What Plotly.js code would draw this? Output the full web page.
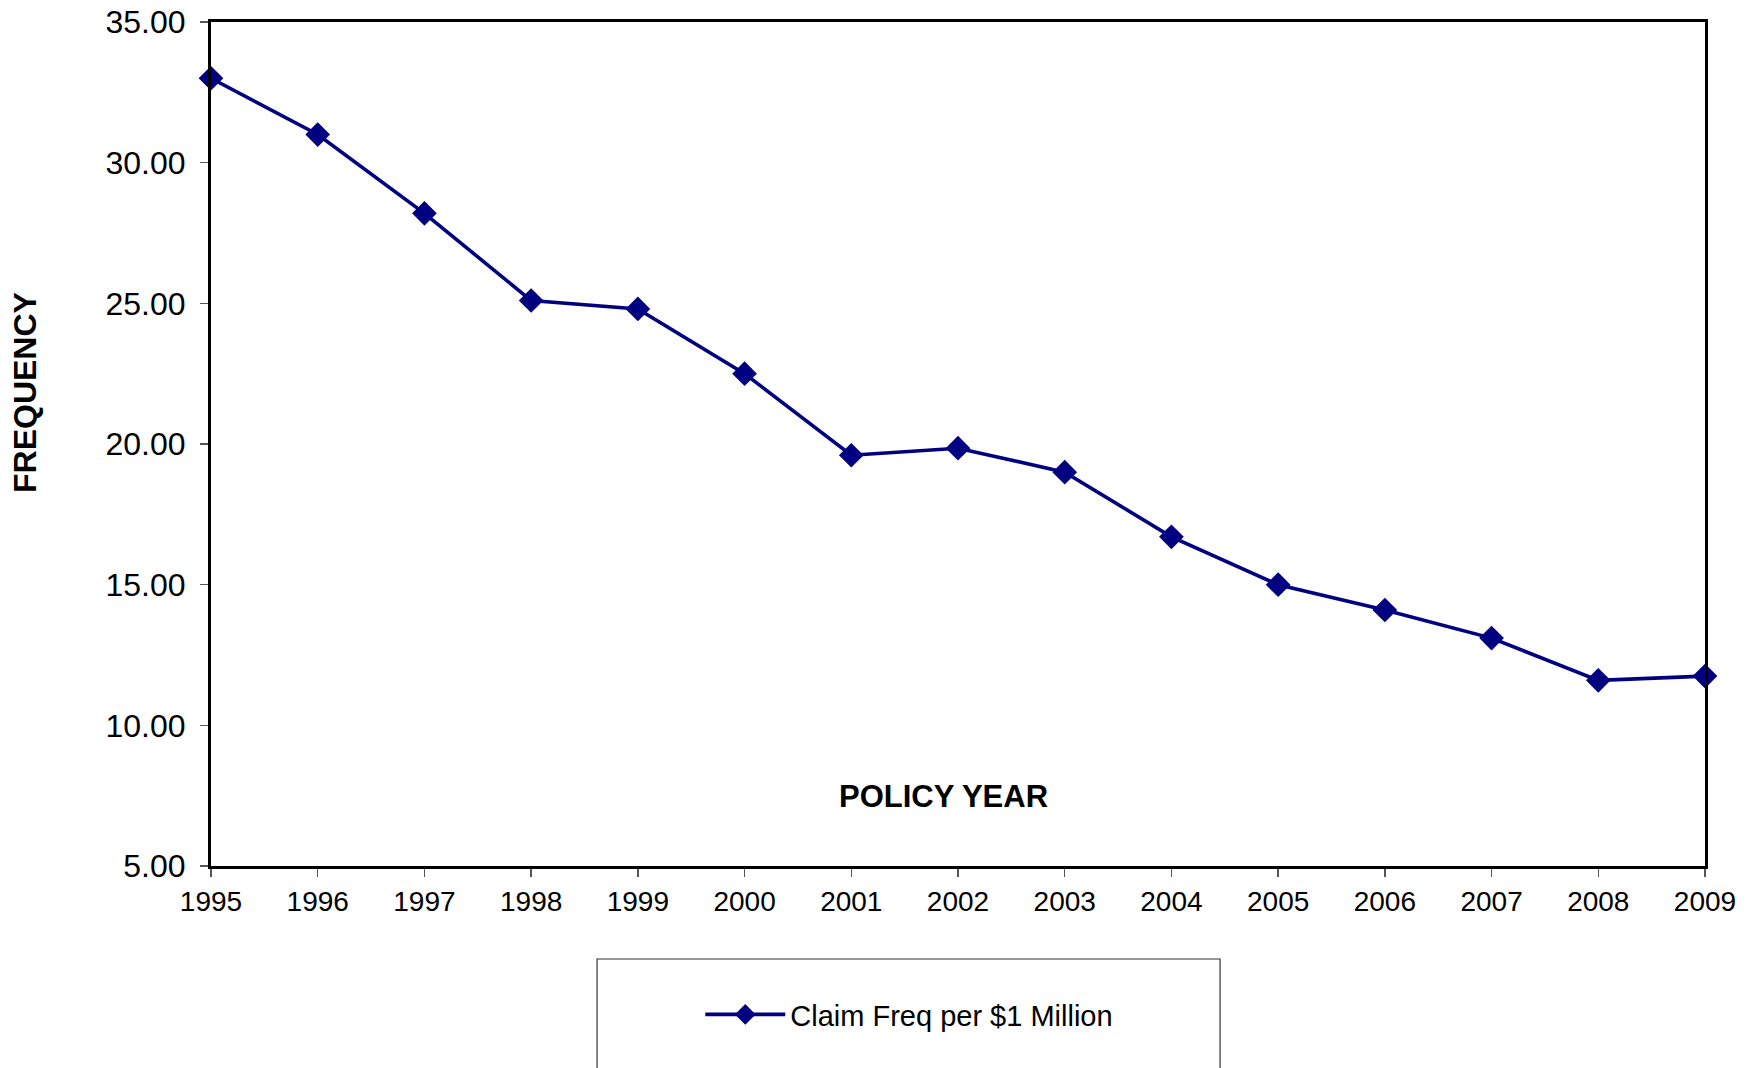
<!DOCTYPE html>
<html>
<head>
<meta charset="utf-8">
<script src="https://cdn.plot.ly/plotly-3.0.1.min.js"></script>
<style>html,body{margin:0;padding:0;background:#fff;}#chart{width:1758px;height:1068px;}</style>
</head>
<body>
<div id="chart"></div>
<script>
var years = [1995, 1996, 1997, 1998, 1999, 2000, 2001, 2002, 2003, 2004, 2005, 2006, 2007, 2008, 2009];
var claimFreq = [33.0, 31.0, 28.2, 25.1, 24.8, 22.5, 19.6, 19.85, 19.0, 16.7, 15.0, 14.1, 13.1, 11.6, 11.75];
var seriesName = "Claim Freq per $1 Million";
var yTitle = "FREQUENCY";
var xTitle = "POLICY YEAR";

var FONT = "Liberation Sans, Arial, Helvetica, sans-serif";

var trace = {
  x: years,
  y: claimFreq,
  name: seriesName,
  type: "scatter",
  mode: "lines+markers",
  line: {color: "#000080", width: 3.6},
  marker: {symbol: "diamond", size: 19, color: "#000080"},
  cliponaxis: false
};

var layout = {
  width: 1758,
  height: 1068,
  paper_bgcolor: "#ffffff",
  plot_bgcolor: "#ffffff",
  margin: {l: 211, r: 53, t: 22, b: 202},
  font: {family: FONT, color: "#000"},
  showlegend: true,
  xaxis: {
    range: [1995, 2009],
    tickmode: "array",
    tickvals: years,
    ticktext: years.map(String),
    showgrid: false,
    zeroline: false,
    showline: true,
    linecolor: "#000",
    linewidth: 3,
    mirror: true,
    ticks: "outside",
    ticklen: 8,
    tickwidth: 1.5,
    tickcolor: "#555",
    ticklabelstandoff: 0,
    tickfont: {family: FONT, size: 28, color: "#000"}
  },
  yaxis: {
    range: [5, 35],
    dtick: 5,
    tick0: 5,
    tickformat: ".2f",
    showgrid: false,
    zeroline: false,
    showline: true,
    linecolor: "#000",
    linewidth: 3,
    mirror: true,
    ticks: "outside",
    ticklen: 8,
    tickwidth: 1.5,
    tickcolor: "#555",
    ticklabelstandoff: 8,
    tickfont: {family: FONT, size: 32, color: "#000"}
  },
  annotations: [{
    text: "<b>" + xTitle + "</b>",
    xref: "paper", yref: "paper",
    x: 0.49, y: 0.0818,
    xanchor: "center", yanchor: "middle",
    showarrow: false,
    font: {family: FONT, size: 31, color: "#000"}
  }, {
    text: "<b>" + yTitle + "</b>",
    xref: "paper", yref: "paper",
    x: -0.1245, y: 0.5616,
    xanchor: "center", yanchor: "middle",
    textangle: -90,
    showarrow: false,
    font: {family: FONT, size: 32, color: "#000"}
  }],
  shapes: [{
    type: "rect",
    xref: "paper", yref: "paper",
    x0: 0.2584, x1: 0.6754,
    y0: -0.1102, y1: -0.26,
    line: {color: "#333", width: 1.2},
    fillcolor: "rgba(0,0,0,0)",
    layer: "above"
  }],
  legend: {
    x: 0.3275, y: -0.176,
    xanchor: "left", yanchor: "middle",
    orientation: "h",
    itemwidth: 80,
    bgcolor: "rgba(0,0,0,0)",
    borderwidth: 0,
    font: {family: FONT, size: 29, color: "#000"}
  }
};

Plotly.newPlot("chart", [trace], layout, {displayModeBar: false, staticPlot: true});
</script>
</body>
</html>
